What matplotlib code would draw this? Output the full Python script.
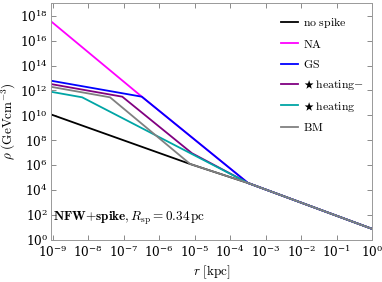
import numpy as np
import matplotlib
matplotlib.use("Agg")
import matplotlib.pyplot as plt

plt.rcParams['mathtext.fontset'] = 'cm'
plt.rcParams['font.family'] = 'serif'
plt.rcParams['font.serif'] = ['DejaVu Serif']

# breakpoints, as log10(r / kpc) and log10(rho / GeV cm^-3)
nospike_r = [-9.056, -5.13, -3.5, 0.0]
nospike_rho = [10.08, 6.08, 4.55, 0.85]

na_r = [-9.056, -6.49, -3.5, 0.0]
na_rho = [17.59, 11.50, 4.55, 0.85]

gs_r = [-9.056, -6.49, -3.5, 0.0]
gs_rho = [12.79, 11.50, 4.55, 0.85]

heatm_r = [-9.056, -7.04, -5.08, -3.5, 0.0]
heatm_rho = [12.52, 11.50, 6.95, 4.55, 0.85]

heat_r = [-9.056, -8.17, -3.5, 0.0]
heat_rho = [11.90, 11.45, 4.55, 0.85]

bm_r = [-9.056, -7.385, -5.13, -3.5, 0.0]
bm_rho = [12.30, 11.45, 6.08, 4.55, 0.85]

labels = [r'$\mathrm{no\ spike}$', r'$\mathrm{NA}$', r'$\mathrm{GS}$',
          r'$\bigstar\:\mathrm{heating}{-}$', r'$\bigstar\:\mathrm{heating}$', r'$\mathrm{BM}$']
colors = ['black', '#ff00ff', '#0000ff', '#800080', '#00a5a5', '#808080']
series = [(nospike_r, nospike_rho), (na_r, na_rho), (gs_r, gs_rho),
          (heatm_r, heatm_rho), (heat_r, heat_rho), (bm_r, bm_rho)]

fig = plt.figure(figsize=(3.82, 2.82), dpi=100)
ax = fig.add_axes([0.1327, 0.1507, 0.8419, 0.8376])

for (lr, lrho), lab, c in zip(series, labels, colors):
    ax.plot(10**np.array(lr), 10**np.array(lrho), color=c, lw=1.3, label=lab)

ax.set_xscale('log')
ax.set_yscale('log')
ax.set_xlim(10**-9.056, 1)
ax.set_ylim(1, 10**19.02)
ax.set_xticks([10.0**k for k in range(-9, 1)])
ax.set_yticks([10.0**k for k in range(0, 19, 2)])
ax.minorticks_off()
ax.tick_params(direction='in', top=True, right=True, length=3.5, width=0.6,
               color='#777777', labelsize=8.7, pad=2)
ax.tick_params(axis='x', pad=3)
for s in ax.spines.values():
    s.set_color('#999999')
    s.set_linewidth(0.7)

ax.set_xlabel(r'$r\ [\mathrm{kpc}]$', fontsize=9.5, labelpad=3)
ax.set_ylabel(r'$\rho\ (\mathrm{GeV}\mathrm{cm}^{-3})$', fontsize=9.5, labelpad=1)

ax.text(0.008, 0.088, r'$\mathbf{NFW{+}spike}, R_{\rm sp} = 0.34\,\mathrm{pc}$',
        transform=ax.transAxes, fontsize=9.5, va='center', ha='left')

ax.legend(loc='upper right', frameon=False, fontsize=8.5, handlelength=1.5,
          handletextpad=0.35, labelspacing=0.62, bbox_to_anchor=(1.005, 0.99))

fig.savefig('out.png', dpi=100)
